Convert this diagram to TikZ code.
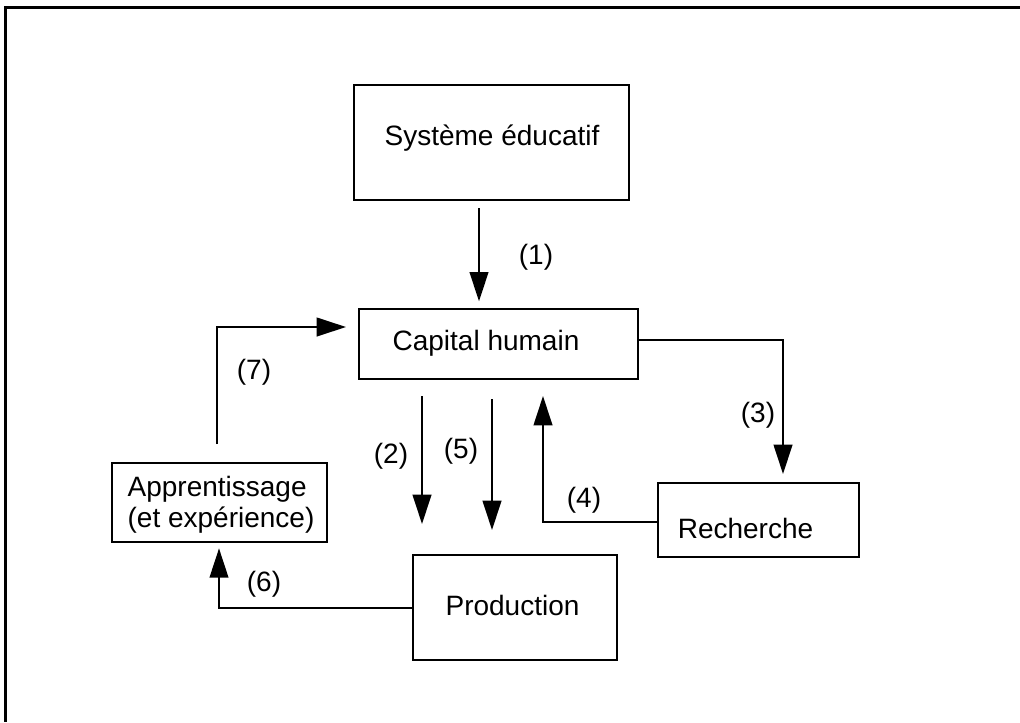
\documentclass[tikz,border=0pt]{standalone}
\usepackage{fontspec}
\setmainfont{Liberation Sans}
\usetikzlibrary{arrows.meta,fit}
\begin{document}
\begin{tikzpicture}[x=0.75pt,y=-0.75pt,
  box/.style={draw, line width=1.5pt, inner sep=0pt},
  txt/.style={font=\fontsize{21}{23}\selectfont, inner sep=0pt},
  con/.style={line width=1.5pt, -{Triangle[length=22pt,width=14pt]}},
  lab/.style={font=\fontsize{21}{23}\selectfont, inner sep=0pt}]
\useasboundingbox (0,0) rectangle (1020,722);
\draw[line width=2.25pt] (1020,7) -- (5,7) -- (5,722);

% boxes
\node[box, fit={(354,85) (629,200)}] (sys) {};
\node[box, fit={(359,309) (638,379)}] (cap) {};
\node[box, fit={(112,463) (327,542)}] (app) {};
\node[box, fit={(658,483) (859,557)}] (rec) {};
\node[box, fit={(413,555) (617,660)}] (prod) {};

% texts
\node[txt] (tsys) at (492,138) {Système éducatif};
\node[txt] (tcap) at (486,343) {Capital humain};
\node[txt, align=left] (tapp) at (221,505) {Apprentissage\\(et expérience)};
\node[txt] (trec) at (745.5,528) {Recherche};
\node[txt] (tprod) at (512.5,605) {Production};

% helper coordinates
\coordinate (x1) at (479,0);
\coordinate (x2) at (422,0);
\coordinate (x5) at (492,0);
\coordinate (b7) at (217,327);
\coordinate (b6) at (219,608);
\coordinate (b3) at (783,340);
\coordinate (b4) at (543,522);

% connectors
\draw[con, shorten <=5.25pt, shorten >=5pt] (sys.south -| x1) -- (cap.north -| x1);
\draw[con, shorten <=12pt, shorten >=22.5pt] (cap.south -| x2) -- (prod.north -| x2);
\draw[con, shorten <=14.25pt, shorten >=18pt] (cap.south -| x5) -- (prod.north -| x5);
\draw[con, shorten >=6pt] (cap.east |- b3) -- (b3) -- (rec.north -| b3);
\draw[con, shorten >=12pt] (rec.west |- b4) -- (b4) -- (cap.south -| b4);
\draw[con, shorten >=4pt] (prod.west |- b6) -- (b6) -- (app.south -| b6);
\draw[con, shorten <=13.5pt, shorten >=9pt] (app.north -| b7) -- (b7) -- (cap.west |- b7);

% labels
\node[lab] (l1) at (536,257) {(1)};
\node[lab] (l2) at (391,456) {(2)};
\node[lab] (l3) at (758,415) {(3)};
\node[lab] (l4) at (584,500) {(4)};
\node[lab] (l5) at (461,451) {(5)};
\node[lab] (l6) at (264,584) {(6)};
\node[lab] (l7) at (254,372) {(7)};
\end{tikzpicture}
\end{document}
